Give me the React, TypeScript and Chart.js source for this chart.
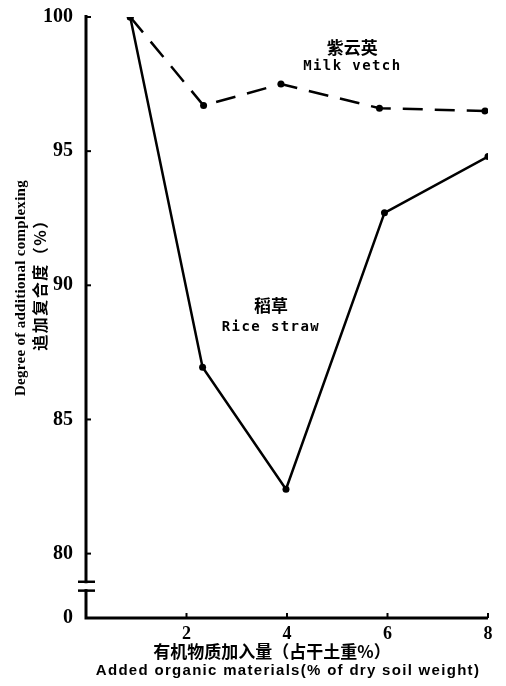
import React, { useEffect, useRef } from "react";
import { Chart, registerables } from "chart.js";

Chart.register(...registerables);

const milkVetchX = [0.88, 2.34, 3.88, 5.84, 7.94];
const milkVetchY = [100, 96.7, 97.5, 96.6, 96.5];
const riceStrawX = [0.88, 2.32, 3.98, 5.94, 8.0];
const riceStrawY = [100, 86.95, 82.4, 92.7, 94.8];
const xTicks = [2, 4, 6, 8];
const yTicks = [80, 85, 90, 95, 100];
const yBottom = 77.6; // displayed as "0" under the axis break
const milkLabel = ["紫云英", "Milk vetch"];
const riceLabel = ["稻草", "Rice straw"];
const yTitleEn = "Degree of additional complexing";
const yTitleZh = "追加复合度（%）";
const xTitleZh = "有机物质加入量（占干土重%）";
const xTitleEn = "Added organic materials(% of dry soil weight)";

const overlay = {
  id: "overlay",
  afterDraw(chart: any) {
    const { ctx, scales } = chart;
    const xs = scales.x;
    const ys = scales.y;
    const left = chart.chartArea.left;
    const bottom = chart.chartArea.bottom;
    ctx.save();
    ctx.fillStyle = "#000";
    ctx.strokeStyle = "#000";
    // axes
    ctx.lineWidth = 3;
    ctx.beginPath();
    ctx.moveTo(left, ys.getPixelForValue(100) - 2);
    ctx.lineTo(left, bottom);
    ctx.lineTo(xs.getPixelForValue(8), bottom);
    ctx.stroke();
    // inward tick marks
    ctx.lineWidth = 2;
    yTicks.forEach((v) => {
      const y = ys.getPixelForValue(v);
      ctx.beginPath();
      ctx.moveTo(left, y);
      ctx.lineTo(left + 5, y);
      ctx.stroke();
    });
    xTicks.forEach((v) => {
      const x = xs.getPixelForValue(v);
      ctx.beginPath();
      ctx.moveTo(x, bottom);
      ctx.lineTo(x, bottom - 5);
      ctx.stroke();
    });
    // axis break
    const b1 = ys.getPixelForValue(78.95);
    const b2 = ys.getPixelForValue(78.62);
    ctx.fillStyle = "#fff";
    ctx.fillRect(left - 3, b1 + 1.5, 6, b2 - b1 - 3);
    ctx.fillStyle = "#000";
    ctx.lineWidth = 2.5;
    [b1, b2].forEach((y) => {
      ctx.beginPath();
      ctx.moveTo(left - 8, y);
      ctx.lineTo(left + 9, y);
      ctx.stroke();
    });
    // series labels
    ctx.textAlign = "center";
    ctx.textBaseline = "middle";
    const mx = xs.getPixelForValue(5.3);
    ctx.font = "bold 17px 'Noto Sans CJK SC'";
    ctx.fillText(milkLabel[0], mx, ys.getPixelForValue(98.85));
    ctx.font = "bold 14px 'DejaVu Sans Mono'";
    (ctx as any).letterSpacing = "1.4px";
    ctx.fillText(milkLabel[1], mx, ys.getPixelForValue(98.15));
    (ctx as any).letterSpacing = "0px";
    const rx = xs.getPixelForValue(3.68);
    ctx.font = "bold 17px 'Noto Sans CJK SC'";
    ctx.fillText(riceLabel[0], rx, ys.getPixelForValue(89.25));
    ctx.font = "bold 14px 'DejaVu Sans Mono'";
    (ctx as any).letterSpacing = "1.4px";
    ctx.fillText(riceLabel[1], rx, ys.getPixelForValue(88.45));
    (ctx as any).letterSpacing = "0px";
    // x titles
    ctx.font = "bold 17px 'Noto Sans CJK SC'";
    ctx.fillText(xTitleZh, 272, 652);
    ctx.font = "bold 15px 'Liberation Sans'";
    (ctx as any).letterSpacing = "1.3px";
    ctx.fillText(xTitleEn, 288, 671);
    (ctx as any).letterSpacing = "0px";
    // y titles
    ctx.save();
    ctx.translate(21, 288);
    ctx.rotate(-Math.PI / 2);
    ctx.font = "bold 15px 'Liberation Serif'";
    (ctx as any).letterSpacing = "0.3px";
    ctx.fillText(yTitleEn, 0, 0);
    ctx.restore();
    ctx.save();
    ctx.translate(40, 281);
    ctx.rotate(-Math.PI / 2);
    ctx.font = "bold 16px 'Noto Sans CJK SC'";
    (ctx as any).letterSpacing = "1.5px";
    ctx.fillText(yTitleZh, 0, 0);
    ctx.restore();
    ctx.restore();
  },
};

export default function App() {
  const ref = useRef<HTMLCanvasElement | null>(null);
  useEffect(() => {
    if (!ref.current) return;
    const chart = new Chart(ref.current, {
      type: "line",
      data: {
        datasets: [
          {
            label: "Milk vetch",
            data: milkVetchX.map((x, i) => ({ x, y: milkVetchY[i] })),
            borderColor: "#000",
            backgroundColor: "#000",
            borderWidth: 2.5,
            borderDash: [20, 12],
            pointRadius: 3.5,
            pointBorderWidth: 0,
            tension: 0,
          },
          {
            label: "Rice straw",
            data: riceStrawX.map((x, i) => ({ x, y: riceStrawY[i] })),
            borderColor: "#000",
            backgroundColor: "#000",
            borderWidth: 2.5,
            pointRadius: 3.5,
            pointBorderWidth: 0,
            tension: 0,
          },
        ],
      },
      options: {
        animation: false,
        responsive: false,
        maintainAspectRatio: false,
        layout: { padding: { left: 0, right: 18, top: 10, bottom: 0 } },
        plugins: { legend: { display: false }, tooltip: { enabled: false } },
        scales: {
          x: {
            type: "linear",
            min: 0,
            max: 8,
            grid: { display: false },
            border: { display: false },
            afterBuildTicks: (s: any) => {
              s.ticks = xTicks.map((v) => ({ value: v }));
            },
            afterFit: (s: any) => {
              s.height = 68;
            },
            ticks: {
              color: "#000",
              padding: -2,
              maxRotation: 0,
              font: { family: "'Liberation Serif'", size: 18, weight: "bold" },
            },
          },
          y: {
            type: "linear",
            min: yBottom,
            max: 100,
            grid: { display: false },
            border: { display: false },
            afterBuildTicks: (s: any) => {
              s.ticks = [yBottom, ...yTicks].map((v) => ({ value: v }));
            },
            afterFit: (s: any) => {
              s.width = 86;
            },
            ticks: {
              color: "#000",
              padding: 5,
              font: { family: "'Liberation Serif'", size: 20, weight: "bold" },
              callback: (v: any) => (v === yBottom ? "0" : String(v)),
            },
          },
        },
      },
      plugins: [overlay],
    });
    return () => chart.destroy();
  }, []);
  return (
    <div style={{ position: "absolute", left: 0, top: 0, width: 506, height: 686, background: "#fff" }}>
      <canvas ref={ref} width={506} height={686} />
    </div>
  );
}
